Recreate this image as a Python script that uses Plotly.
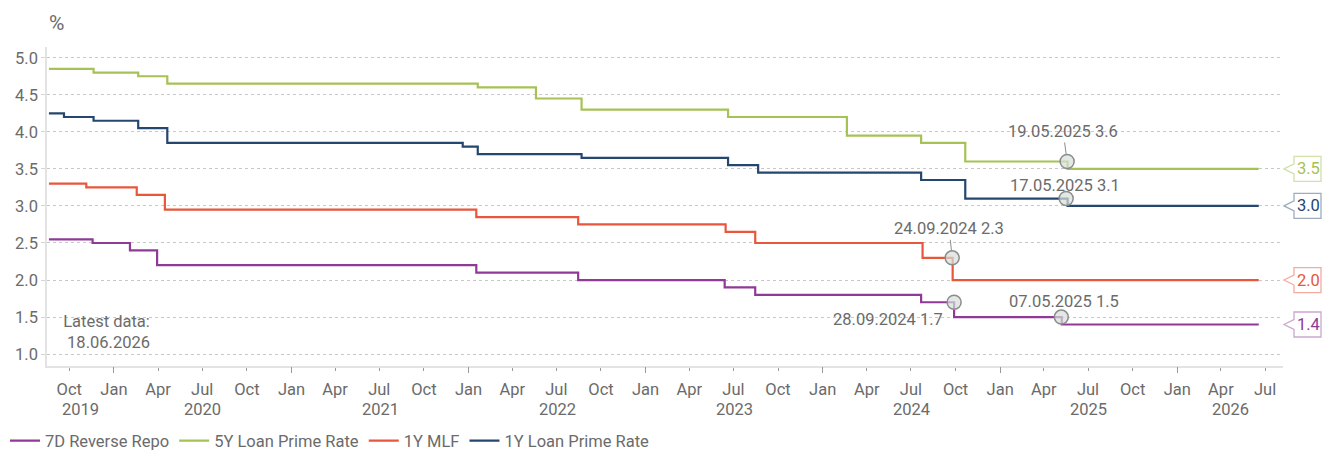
import pandas as pd
import plotly.graph_objects as go

# ---------------- data ----------------
rr7_dates = ["2019-08-20", "2019-11-18", "2020-02-03", "2020-03-30", "2022-01-17", "2022-08-15",
             "2023-06-13", "2023-08-15", "2024-07-22", "2024-09-28", "2025-05-08", "2026-06-18"]
rr7_vals = [2.55, 2.50, 2.40, 2.20, 2.10, 2.00, 1.90, 1.80, 1.70, 1.50, 1.40, 1.40]

lpr5_dates = ["2019-08-20", "2019-11-20", "2020-02-20", "2020-04-20", "2022-01-20", "2022-05-20",
              "2022-08-22", "2023-06-20", "2024-02-20", "2024-07-22", "2024-10-21", "2025-05-20",
              "2026-06-18"]
lpr5_vals = [4.85, 4.80, 4.75, 4.65, 4.60, 4.45, 4.30, 4.20, 3.95, 3.85, 3.60, 3.50, 3.50]

mlf_dates = ["2019-08-20", "2019-11-05", "2020-02-17", "2020-04-15", "2022-01-17", "2022-08-15",
             "2023-06-15", "2023-08-15", "2024-07-25", "2024-09-25", "2026-06-18"]
mlf_vals = [3.30, 3.25, 3.15, 2.95, 2.85, 2.75, 2.65, 2.50, 2.30, 2.00, 2.00]

lpr1_dates = ["2019-08-20", "2019-09-20", "2019-11-20", "2020-02-20", "2020-04-20", "2021-12-20",
              "2022-01-20", "2022-08-22", "2023-06-20", "2023-08-21", "2024-07-22", "2024-10-21",
              "2025-05-20", "2026-06-18"]
lpr1_vals = [4.25, 4.20, 4.15, 4.05, 3.85, 3.80, 3.70, 3.65, 3.55, 3.45, 3.35, 3.10, 3.00, 3.00]

series_names = ["7D Reverse Repo", "5Y Loan Prime Rate", "1Y MLF", "1Y Loan Prime Rate"]
series_colors = ["#8e3a96", "#a6c255", "#e8573c", "#25476f"]
series_border = ["rgba(142,58,150,0.45)", "rgba(166,194,85,0.5)", "rgba(232,87,60,0.5)", "rgba(37,71,111,0.45)"]

# highlighted points (date, value)
hl_dates = ["2024-09-28", "2024-09-24", "2025-05-07", "2025-05-17", "2025-05-19"]
hl_vals = [1.7, 2.3, 1.5, 3.1, 3.6]
hl_labels = ["28.09.2024 1.7", "24.09.2024 2.3", "07.05.2025 1.5", "17.05.2025 3.1", "19.05.2025 3.6"]

year_labels = ["2019", "2020", "2021", "2022", "2023", "2024", "2025", "2026"]
x_range = ["2019-08-16", "2026-08-07"]
latest_note = "Latest data:<br> 18.06.2026"

# ---------------- figure ----------------
GRAY = "#6b6b6b"
FONT = "Roboto"
FS = 16.5
fig = go.Figure()

all_dates = [rr7_dates, lpr5_dates, mlf_dates, lpr1_dates]
all_vals = [rr7_vals, lpr5_vals, mlf_vals, lpr1_vals]
for name, d, v, c in zip(series_names, all_dates, all_vals, series_colors):
    fig.add_trace(go.Scatter(x=d, y=v, name=name, mode="lines",
                             line=dict(color=c, width=2.2, shape="hv"),
                             hoverinfo="skip"))

fig.add_trace(go.Scatter(x=hl_dates, y=hl_vals, mode="markers", showlegend=False,
                         marker=dict(size=14, color="rgba(214,224,218,0.7)",
                                     line=dict(color="#8c8c8c", width=1.5)),
                         hoverinfo="skip"))

# quarter ticks
q_ticks = pd.date_range("2019-10-01", "2026-07-01", freq="QS")
jan_ticks = pd.date_range("2020-01-01", "2026-01-01", freq="YS")

# page body has an 8px margin -> figure shrunk by 8px and margins shifted
fig.update_layout(
    width=1323, height=442,
    margin=dict(l=39, r=48, t=39, b=84, autoexpand=False),
    paper_bgcolor="white", plot_bgcolor="white",
    font=dict(family=FONT, size=FS, color=GRAY),
    showlegend=True,
    legend=dict(orientation="h", x=-0.034, xanchor="left", y=-0.235, yanchor="middle",
                font=dict(size=FS, color=GRAY), itemwidth=30, tracegroupgap=0,
                bgcolor="rgba(0,0,0,0)"),
    xaxis=dict(type="date", range=x_range, tickmode="array", automargin=False,
               tickvals=list(q_ticks), ticktext=[t.strftime("%b") for t in q_ticks],
               ticks="outside", ticklen=3, tickcolor="#9a9a9a", tickwidth=1,
               showgrid=False, showline=True, linecolor="#e3e3e3", linewidth=1.5,
               tickfont=dict(size=FS, color=GRAY), ticklabelstandoff=4, zeroline=False),
    xaxis2=dict(type="date", range=x_range, overlaying="x", matches="x", side="bottom",
                tickmode="array", tickvals=list(jan_ticks), showticklabels=False,
                ticks="outside", ticklen=6, tickcolor="#9a9a9a", tickwidth=1.2, automargin=False,
                showgrid=False, showline=False, zeroline=False),
    yaxis=dict(range=[0.84, 5.145], tickmode="array", automargin=False,
               tickvals=[1.0, 1.5, 2.0, 2.5, 3.0, 3.5, 4.0, 4.5, 5.0], tickformat=".1f",
               ticks="outside", ticklen=4, tickcolor="#d5d5d5",
               showgrid=True, gridcolor="#c8c8c8", griddash="dot", gridwidth=1,
               showline=True, linecolor="#e3e3e3", linewidth=1.5, zeroline=False,
               tickfont=dict(size=FS, color=GRAY)),
)
# dummy trace to activate xaxis2
fig.add_trace(go.Scatter(x=[x_range[0]], y=[None], xaxis="x2", showlegend=False, hoverinfo="skip"))

# year labels centred in visible part of each year
rs, re_ = pd.Timestamp(x_range[0]), pd.Timestamp(x_range[1])
for yl in year_labels:
    a = max(pd.Timestamp(f"{yl}-01-01"), rs)
    b = min(pd.Timestamp(f"{int(yl)+1}-01-01"), re_)
    mid = a + (b - a) / 2
    fig.add_annotation(x=mid, y=-0.135, xref="x", yref="paper", text=yl, showarrow=False,
                       font=dict(size=FS, color=GRAY), xanchor="center", yanchor="middle")

# "%" unit label
fig.add_annotation(x=0.008, y=1.075, xref="paper", yref="paper", text="%", showarrow=False,
                   font=dict(size=21, color=GRAY), xanchor="center", yanchor="middle")
# latest data note
fig.add_annotation(x=0.0485, y=0.107, xref="paper", yref="paper", text=latest_note,
                   showarrow=False, align="center", font=dict(size=FS, color=GRAY),
                   xanchor="center", yanchor="middle")

# highlight labels
hl_offsets = [(-66, 17, False), (-3, -29, True), (3, -16, False), (-1, -13, False), (-4, -30, True)]
for d, v, lab, (ax, ay, arrow) in zip(hl_dates, hl_vals, hl_labels, hl_offsets):
    if arrow:
        fig.add_annotation(x=d, y=v, text=lab, showarrow=True, arrowhead=0, arrowwidth=1,
                           arrowcolor="#8c8c8c", ax=ax, ay=ay, standoff=7,
                           font=dict(size=FS, color=GRAY))
    else:
        fig.add_annotation(x=d, y=v, text=lab, showarrow=False, xshift=ax, yshift=-ay,
                           xanchor="center", font=dict(size=FS, color=GRAY))

# right-side end value callouts
for v, c, bc in zip(all_vals, series_colors, series_border):
    last = v[-1]
    fig.add_shape(type="path", xref="paper", yref="y", xsizemode="pixel", ysizemode="pixel",
                  xanchor=1, yanchor=last,
                  path="M 1 0 L 11 5 L 11 12.5 L 38 12.5 L 38 -12.5 L 11 -12.5 L 11 -5 Z",
                  line=dict(color=bc, width=1.3), fillcolor="white", layer="above")
    fig.add_annotation(x=1, y=last, xref="paper", yref="y", xanchor="center", xshift=25,
                       text=f"{last:.1f}", showarrow=False, font=dict(size=FS, color=c))

fig.write_html("out.html")
